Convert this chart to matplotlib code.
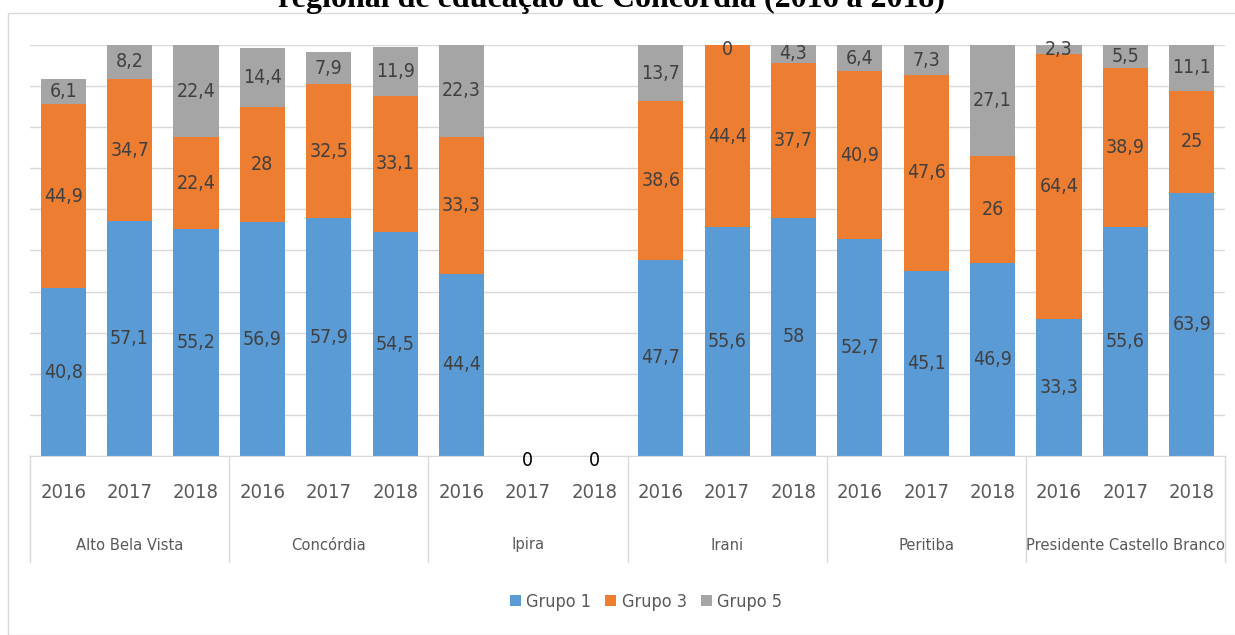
import numpy as np
import matplotlib
matplotlib.use("Agg")
import matplotlib.pyplot as plt
import matplotlib.transforms as mtransforms
from matplotlib import font_manager as fm
from matplotlib.patches import Rectangle

# data
municipios = ["Alto Bela Vista", "Concórdia", "Ipira", "Irani", "Peritiba",
              "Presidente Castello Branco"]
anos = ["2016", "2017", "2018"]
grupo1 = [40.8, 57.1, 55.2, 56.9, 57.9, 54.5, 44.4, 0, 0,
          47.7, 55.6, 58, 52.7, 45.1, 46.9, 33.3, 55.6, 63.9]
grupo3 = [44.9, 34.7, 22.4, 28, 32.5, 33.1, 33.3, 0, 0,
          38.6, 44.4, 37.7, 40.9, 47.6, 26, 64.4, 38.9, 25]
grupo5 = [6.1, 8.2, 22.4, 14.4, 7.9, 11.9, 22.3, 0, 0,
          13.7, 0, 4.3, 6.4, 7.3, 27.1, 2.3, 5.5, 11.1]
# zero values that still carry a visible label: (series index, bar index)
zero_labels = [(0, 7), (0, 8), (2, 10)]

# look for a narrow sans face, the reference uses a condensed font
narrow = None
for f in fm.fontManager.ttflist:
    fn = f.fname.lower()
    if ("narrow" in fn or "condensed" in fn) and "bold" not in fn and "oblique" not in fn \
            and "italic" not in fn and "serif" not in fn and "mono" not in fn:
        narrow = f.fname
        break

def fp(size):
    if narrow:
        return fm.FontProperties(fname=narrow, size=size)
    return fm.FontProperties(family="DejaVu Sans", size=size * 0.82)

W, H = 1235, 635
fig = plt.figure(figsize=(W / 100, H / 100), dpi=100)
fig.patches.append(Rectangle((8 / W, 0), 1.0, 1 - 13 / H, transform=fig.transFigure,
                             fill=False, edgecolor="#d9d9d9", linewidth=1.0))

ax = fig.add_axes([30 / W, 1 - 456 / H, 1195 / W, 411 / H])

series = [grupo1, grupo3, grupo5]
labels = ["Grupo 1", "Grupo 3", "Grupo 5"]
colors = ["#5b9bd5", "#ed7d31", "#a5a5a5"]
n = len(grupo1)
x = np.arange(n)
bottom = np.zeros(n)
for s, (vals, lab, col) in enumerate(zip(series, labels, colors)):
    vals = np.array(vals, dtype=float)
    ax.bar(x, vals, 0.68, bottom=bottom, color=col, label=lab, zorder=2)
    for i in range(n):
        mid = bottom[i] + vals[i] / 2
        if vals[i] > 0:
            ax.text(x[i], mid, f"{vals[i]:g}".replace(".", ","), ha="center",
                    va="center", fontproperties=fp(14), color="#404040", zorder=3)
        elif (s, i) in zero_labels:
            c = "#000000" if s == 0 else "#404040"
            ax.annotate("0", (x[i], mid), xytext=(0, -3), textcoords="offset points",
                        ha="center", va="center", fontproperties=fp(14), color=c, zorder=3)
    bottom += vals

ax.set_xlim(-0.5, n - 0.5)
ax.set_ylim(0, 100)
ax.set_yticks(np.arange(0, 101, 10))
ax.yaxis.grid(True, color="#d9d9d9", linewidth=1.0, zorder=0)
ax.set_axisbelow(True)
ax.tick_params(left=False, labelleft=False, bottom=False, labelbottom=False)
for sp in ["left", "right", "top"]:
    ax.spines[sp].set_visible(False)
ax.spines["bottom"].set_color("#d9d9d9")

trans = mtransforms.blended_transform_factory(ax.transData, ax.transAxes)
for i in range(n):
    ax.text(x[i], -36 / 411, anos[i % 3], transform=trans, ha="center", va="center",
            fontproperties=fp(14.5), color="#595959")
for g, nome in enumerate(municipios):
    ax.text(3 * g + 1, -89 / 411, nome, transform=trans, ha="center", va="center",
            fontproperties=fp(11.8), color="#595959")
for g in range(len(municipios) + 1):
    ax.plot([3 * g - 0.5, 3 * g - 0.5], [0, -106 / 411], transform=trans,
            color="#d9d9d9", linewidth=1.0, clip_on=False)

fig.legend(loc="center", bbox_to_anchor=(646 / W, 1 - 602 / H), ncol=3, frameon=False,
           prop=fp(13), handlelength=0.6, handleheight=0.6, handletextpad=0.3,
           columnspacing=0.8, labelcolor="#595959")

fig.text(611 / W, 1 - 7 / H, "regional de educação de Concórdia (2016 a 2018)",
         ha="center", va="baseline", fontsize=23, fontweight="bold",
         family=["Liberation Serif", "DejaVu Serif"])

fig.savefig("out.png", dpi=100)
